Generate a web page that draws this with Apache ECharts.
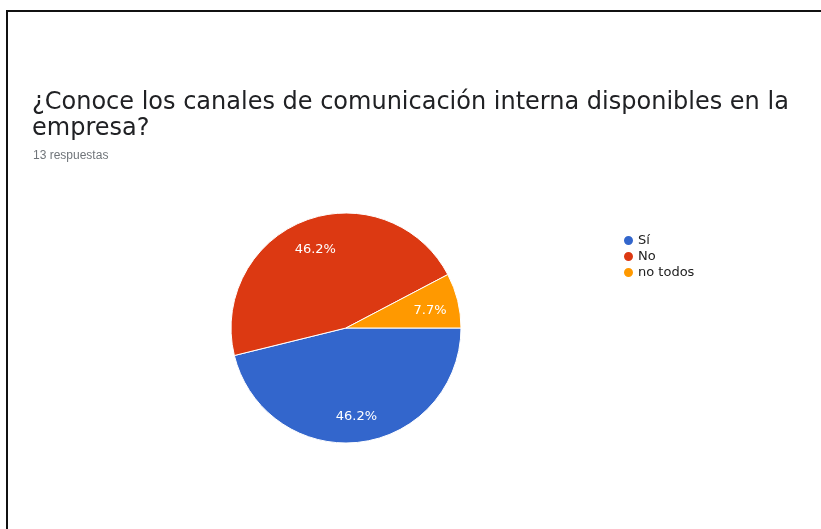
<!DOCTYPE html>
<html>
<head>
<meta charset="utf-8">
<script src="https://cdn.jsdelivr.net/npm/echarts@6/dist/echarts.min.js"></script>
<style>
  html, body { margin: 0; padding: 0; background: #ffffff; }
  #chart { width: 821px; height: 529px; }
  #frame {
    position: absolute; left: 6px; top: 10px; width: 830px; height: 540px;
    border-top: 2px solid #111; border-left: 2px solid #111;
    pointer-events: none; box-sizing: border-box;
  }
</style>
</head>
<body>
<div id="chart"></div>
<div id="frame"></div>
<script>
// Survey answers
const categories = ['Sí', 'No', 'no todos'];
const counts = [6, 6, 1];
const colors = ['#3366cc', '#dc3912', '#ff9900'];
const questionText = '¿Conoce los canales de comunicación interna disponibles en la\nempresa?';
const responsesText = '13 respuestas';

const total = counts.reduce((a, b) => a + b, 0);
const pieData = categories.map((name, i) => ({
  name: name,
  value: counts[i],
  itemStyle: { color: colors[i] }
}));

const chart = echarts.init(document.getElementById('chart'), null, { renderer: 'canvas' });

chart.setOption({
  animation: false,
  backgroundColor: '#ffffff',
  title: [
    {
      text: questionText,
      left: 27,
      top: 85,
      textStyle: {
        fontFamily: 'DejaVu Sans',
        fontSize: 24,
        lineHeight: 26,
        fontWeight: 'normal',
        color: '#202124'
      }
    },
    {
      text: responsesText,
      left: 28,
      top: 145,
      textStyle: {
        fontFamily: 'Liberation Sans',
        fontSize: 12,
        fontWeight: 'normal',
        color: '#70757a'
      }
    }
  ],
  legend: {
    orient: 'vertical',
    left: 617,
    top: 229,
    icon: 'circle',
    itemWidth: 11,
    itemHeight: 11,
    itemGap: 3,
    data: categories,
    textStyle: { fontFamily: 'DejaVu Sans', fontSize: 13, lineHeight: 13, color: '#222222', padding: [0, 0, 0, -1] }
  },
  series: [
    {
      type: 'pie',
      center: [346, 328],
      radius: [0, 115],
      startAngle: 0,
      clockwise: true,
      silent: true,
      label: { show: false },
      labelLine: { show: false },
      itemStyle: { borderColor: '#ffffff', borderWidth: 1 },
      data: pieData
    },
    {
      // transparent ring that only carries the percentage labels
      type: 'pie',
      center: [346, 331],
      radius: [52, 115],
      startAngle: 0,
      clockwise: true,
      silent: true,
      legendHoverLink: false,
      itemStyle: { color: 'rgba(0,0,0,0)' },
      labelLine: { show: false },
      label: {
        show: true,
        position: 'inside',
        fontFamily: 'DejaVu Sans',
        fontSize: 13,
        color: '#ffffff',
        formatter: p => (p.value / total * 100).toFixed(1) + '%'
      },
      data: categories.map((name, i) => ({ name: name, value: counts[i] }))
    }
  ]
});
</script>
</body>
</html>
